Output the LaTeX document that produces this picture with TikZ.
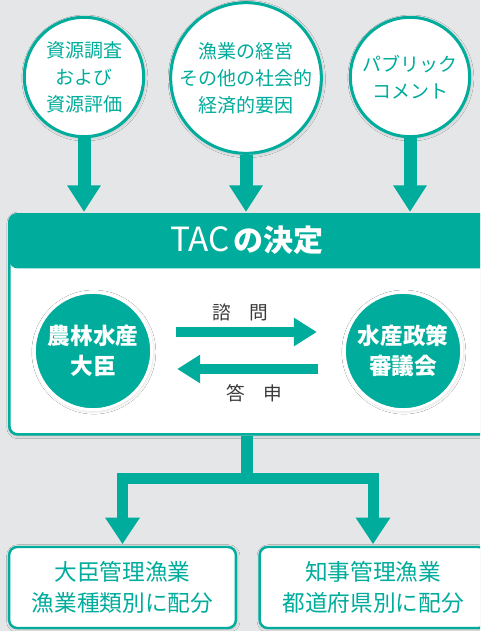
\documentclass[tikz,border=0pt]{standalone}
\usepackage{fontspec}
\newfontfamily\cjk{Noto Sans CJK JP}
\usetikzlibrary{arrows.meta,shadows.blur}
\definecolor{teal1}{RGB}{0,172,155}
\definecolor{bggray}{RGB}{229,230,232}
\definecolor{txtgray}{RGB}{58,58,58}
\tikzset{
  shad/.style={blur shadow={shadow blur steps=6, shadow xshift=0.6pt, shadow yshift=-0.8pt, shadow opacity=22, shadow blur radius=2.5pt}},
  bubble/.style={circle, draw=teal1, line width=2.25pt, fill=white, inner sep=0pt, align=center, text=teal1, shad,
    font=\cjk\fontsize{14.25}{20.25}\selectfont},
  inner/.style={circle, draw=white, line width=2.25pt, fill=teal1, inner sep=0pt, align=center, text=white, shad,
    minimum size=88pt, font=\cjk\bfseries\fontsize{17}{22.5}\selectfont},
  outbox/.style={rectangle, rounded corners=6pt, draw=teal1, line width=1.8pt, fill=white, align=center, text=teal1, shad,
    minimum width=170pt, minimum height=60.75pt, inner sep=0pt, font=\cjk\fontsize{17}{23}\selectfont},
  topflow/.style={draw=teal1, line width=9.75pt, -{Triangle[width=24pt,length=20pt]}, shorten >=0.8pt},
  subflow/.style={draw=teal1, line width=8.25pt, -{Triangle[width=24.75pt,length=20pt]}, shorten >=1.2pt},
  stem/.style={draw=teal1, line width=9.5pt},
  hflow/.style={draw=teal1, line width=7.5pt, -{Triangle[width=20.25pt,length=17.25pt]}},
  lbl/.style={text=txtgray, font=\cjk\fontsize{14}{16}\selectfont},
}
\begin{document}
\begin{tikzpicture}[x=0.75pt,y=-0.75pt]
\useasboundingbox (0,0) rectangle (480,631);
\clip (0,0) rectangle (480,631);
\fill[bggray] (0,0) rectangle (480,631);

% TAC box
\node[rectangle, rounded corners=6pt, draw=teal1, line width=2pt, fill=white, shad, anchor=north west,
  minimum width=363pt, minimum height=165pt, inner sep=0pt,
  path picture={\fill[teal1] (path picture bounding box.north west) rectangle ([yshift=-40.5pt]path picture bounding box.north east);}]
  (tac) at (8,213) {};
\node[text=white, inner sep=0pt] (tactitle) at (247,240)
  {{\cjk\fontsize{25}{25}\selectfont TAC}\hspace{3pt}{\cjk\bfseries\fontsize{22.5}{25}\selectfont の決定}};

% top circles
\node[bubble, minimum size=89.5pt] (c1) at (84,77) {資源調査\\および\\資源評価};
\node[bubble, minimum size=111pt] (c2) at (246,78) {漁業の経営\\その他の社会的\\経済的要因};
\node[bubble, minimum size=89.5pt] (c3) at (410,77) {パブリック\\コメント};

\draw[topflow] (c1.south) -- (c1.south |- tac.north);
\draw[topflow] (c2.south) -- (c2.south |- tac.north);
\draw[topflow] (c3.south) -- (c3.south |- tac.north);

% inner circles
\node[inner] (minister) at (93,351) {農林水産\\大臣};
\node[inner] (council) at (403,351) {水産政策\\審議会};

\draw[hflow, shorten <=17pt, shorten >=19.5pt] ([yshift=14.25pt]minister.east) -- ([yshift=14.25pt]council.west);
\draw[hflow, shorten <=18.75pt, shorten >=18pt] ([yshift=-13.5pt]council.west) -- ([yshift=-13.5pt]minister.east);
\node[lbl] (ask) at (240,312) {諮　問};
\node[lbl] (answer) at (254,393) {答　申};

% bottom boxes
\node[outbox] (b1) at (122.5,587.5) {大臣管理漁業\\漁業種類別に配分};
\node[outbox] (b2) at (373,587.5) {知事管理漁業\\都道府県別に配分};

\coordinate (split) at (247,478);
\draw[stem] (split |- tac.south) -- ([yshift=-4pt]split);
\draw[subflow] (split) -| (b1.north);
\draw[subflow] (split) -| (b2.north);
\end{tikzpicture}
\end{document}
